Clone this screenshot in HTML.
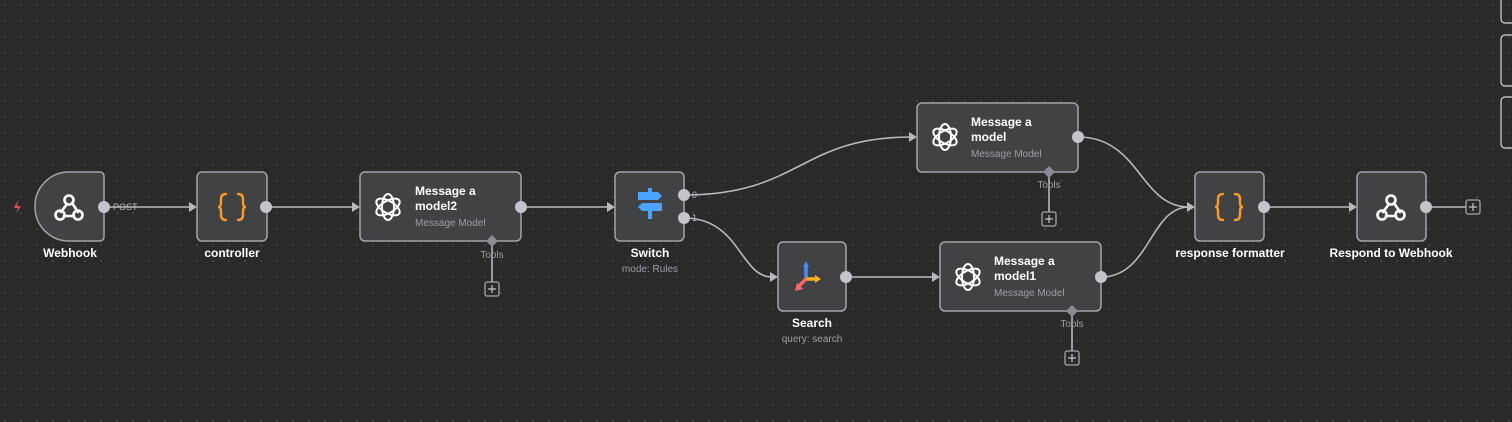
<!DOCTYPE html>
<html><head><meta charset="utf-8"><style>
html,body{margin:0;padding:0;background:#2a2a2b;}
svg{display:block;font-family:"Liberation Sans",sans-serif;}
</style></head><body>
<svg width="1512" height="422" viewBox="0 0 1512 422" xmlns="http://www.w3.org/2000/svg">
<defs>
<pattern id="dots" width="16" height="16" patternUnits="userSpaceOnUse" x="4" y="4">
<circle cx="1" cy="1" r="0.8" fill="#5e5e60"/>
</pattern>
<g id="oai" fill="none" stroke="#fff" stroke-width="2">
<ellipse rx="6" ry="13" transform="rotate(0)"/>
<ellipse rx="6" ry="13" transform="rotate(60)"/>
<ellipse rx="6" ry="13" transform="rotate(120)"/>
</g>
<g id="hook" fill="none" stroke="#fff" stroke-width="2.6" stroke-linecap="round">
<circle cx="0" cy="-8" r="4.5"/>
<circle cx="-9" cy="7" r="4.5"/>
<circle cx="9" cy="7" r="4.5"/>
<path d="M-2,-4 l-6,8"/>
<path d="M3,-5 l6,9"/>
<path d="M-5,8 h10"/>
</g>
<g id="brace" fill="none" stroke="#ff9922" stroke-width="2.4" stroke-linecap="round">
<path d="M-6,-13 q-5,0 -5,5 v4 q0,4 -3,4 q3,0 3,4 v4 q0,5 5,5"/>
<path d="M6,-13 q5,0 5,5 v4 q0,4 3,4 q-3,0 -3,4 v4 q0,5 -5,5"/>
</g>
</defs>
<rect width="1512" height="422" fill="#2a2a2b"/>
<rect width="1512" height="422" fill="url(#dots)"/>

<g fill="none" stroke="#d8d8d8" stroke-width="1.2">
<rect x="1501" y="-10" width="20" height="33" rx="4"/>
<rect x="1501" y="35" width="20" height="51" rx="4"/>
<rect x="1501" y="97" width="20" height="51" rx="4"/>
</g>

<g fill="none" stroke="#b8b9bf" stroke-width="1.6">
<path d="M104,207 H191"/>
<path d="M266,207 H354"/>
<path d="M521,207 H609"/>
<path d="M684,195 C800,195 800,137 911,137"/>
<path d="M684,218 C740,218 740,277 772,277"/>
<path d="M846,277 H934"/>
<path d="M1078,137 C1140,137 1140,207 1189,207"/>
<path d="M1101,277 C1150,277 1150,207 1189,207"/>
<path d="M1264,207 H1351"/>
<path d="M1426,207 H1466"/>
<path d="M492,241 V283"/>
<path d="M1049,172 V213"/>
<path d="M1072,311 V352"/>
</g>
<g fill="#b8b9bf">
<path d="M189,202 l8,5 l-8,5z"/><rect x="197" y="201" width="4" height="12"/>
<path d="M352,202 l8,5 l-8,5z"/><rect x="360" y="201" width="4" height="12"/>
<path d="M607,202 l8,5 l-8,5z"/><rect x="615" y="201" width="4" height="12"/>
<path d="M909,132 l8,5 l-8,5z"/><rect x="917" y="131" width="4" height="12"/>
<path d="M770,272 l8,5 l-8,5z"/><rect x="778" y="271" width="4" height="12"/>
<path d="M932,272 l8,5 l-8,5z"/><rect x="940" y="271" width="4" height="12"/>
<path d="M1187,202 l8,5 l-8,5z"/><rect x="1195" y="201" width="4" height="12"/>
<path d="M1349,202 l8,5 l-8,5z"/><rect x="1357" y="201" width="4" height="12"/>
</g>

<g fill="#414244" stroke="#a3a4ab" stroke-width="1.5">
<path d="M69,172 H100 a4,4 0 0 1 4,4 V237 a4,4 0 0 1 -4,4 H69 a34,34 0 0 1 -34,-34 a34,34 0 0 1 34,-35z"/>
<rect x="197" y="172" width="70" height="69" rx="5"/>
<rect x="360" y="172" width="161" height="69" rx="5"/>
<rect x="615" y="172" width="69" height="69" rx="5"/>
<rect x="917" y="103" width="161" height="69" rx="5"/>
<rect x="778" y="242" width="68" height="69" rx="5"/>
<rect x="940" y="242" width="161" height="69" rx="5"/>
<rect x="1195" y="172" width="69" height="69" rx="5"/>
<rect x="1357" y="172" width="69" height="69" rx="5"/>
</g>

<g fill="#c4c5cc">
<circle cx="104" cy="207" r="6"/>
<circle cx="266" cy="207" r="6"/>
<circle cx="521" cy="207" r="6"/>
<circle cx="684" cy="195" r="6"/>
<circle cx="684" cy="218" r="6"/>
<circle cx="1078" cy="137" r="6"/>
<circle cx="846" cy="277" r="6"/>
<circle cx="1101" cy="277" r="6"/>
<circle cx="1264" cy="207" r="6"/>
<circle cx="1426" cy="207" r="6"/>
</g>
<g fill="#8a8b93">
<path d="M492,235 l6,6 l-6,6 l-6,-6z"/>
<path d="M1049,166 l6,6 l-6,6 l-6,-6z"/>
<path d="M1072,305 l6,6 l-6,6 l-6,-6z"/>
</g>
<g fill="#2a2a2b" stroke="#a3a4ab" stroke-width="1.3">
<rect x="485" y="282" width="14" height="14" rx="2"/>
<rect x="1042" y="212" width="14" height="14" rx="2"/>
<rect x="1065" y="351" width="14" height="14" rx="2"/>
<rect x="1466" y="200" width="14" height="14" rx="2"/>
</g>
<g stroke="#c4c5cc" stroke-width="1.2">
<path d="M488,289 h8 M492,285 v8"/>
<path d="M1045,219 h8 M1049,215 v8"/>
<path d="M1068,358 h8 M1072,354 v8"/>
<path d="M1469,207 h8 M1473,203 v8"/>
</g>

<use href="#hook" x="69" y="208"/>
<use href="#hook" x="1391" y="208"/>
<use href="#brace" x="232" y="207"/>
<use href="#brace" x="1229" y="207"/>
<use href="#oai" x="388" y="207"/>
<use href="#oai" x="945" y="137"/>
<use href="#oai" x="968" y="277"/>
<g fill="#4aa3ff">
<path d="M638,192 h20 l4,4 l-4,4 h-20z"/>
<path d="M662,203 h-20 l-4,4 l4,4 h20z"/>
<rect x="648" y="188" width="4" height="4"/>
<rect x="648" y="211" width="4" height="8"/>
</g>
<g stroke-width="3.5">
<path d="M806,278 v-12" stroke="#4a8cff"/>
<path d="M803,267 l3,-6 l3,6z" fill="#4a8cff" stroke="none"/>
<path d="M806,279 h10" stroke="#ffb020"/>
<path d="M815,275 l6,4 l-6,4z" fill="#ffb020" stroke="none"/>
<path d="M806,279 l-7,7" stroke="#ff6666"/>
<path d="M795,291 l2,-8 l6,6z" fill="#ff6666" stroke="none"/>
</g>
<path d="M18,200 l-4,8 h4 l-2,6 l5,-8 h-4z" fill="#e05050"/>

<g fill="#ffffff" font-weight="bold" font-size="12" text-anchor="middle">
<text x="70" y="257">Webhook</text>
<text x="232" y="257">controller</text>
<text x="650" y="257">Switch</text>
<text x="812" y="327">Search</text>
<text x="1230" y="257">response formatter</text>
<text x="1391" y="257">Respond to Webhook</text>
</g>
<g fill="#ffffff" font-weight="bold" font-size="12">
<text x="415" y="195">Message a</text><text x="415" y="210">model2</text>
<text x="971" y="126">Message a</text><text x="971" y="141">model</text>
<text x="994" y="265">Message a</text><text x="994" y="280">model1</text>
</g>
<g fill="#9e9fa8" font-size="10">
<text x="415" y="226">Message Model</text>
<text x="971" y="157">Message Model</text>
<text x="994" y="296">Message Model</text>
</g>
<g fill="#9e9fa8" font-size="10" text-anchor="middle">
<text x="650" y="272">mode: Rules</text>
<text x="812" y="342">query: search</text>
<text x="492" y="258">Tools</text>
<text x="1049" y="188">Tools</text>
<text x="1072" y="327">Tools</text>
</g>
<g fill="#b8b9bf" font-size="9">
<text x="113" y="210">POST</text>
<text x="692" y="198">0</text>
<text x="692" y="221">1</text>
</g>
</svg>
</body></html>
